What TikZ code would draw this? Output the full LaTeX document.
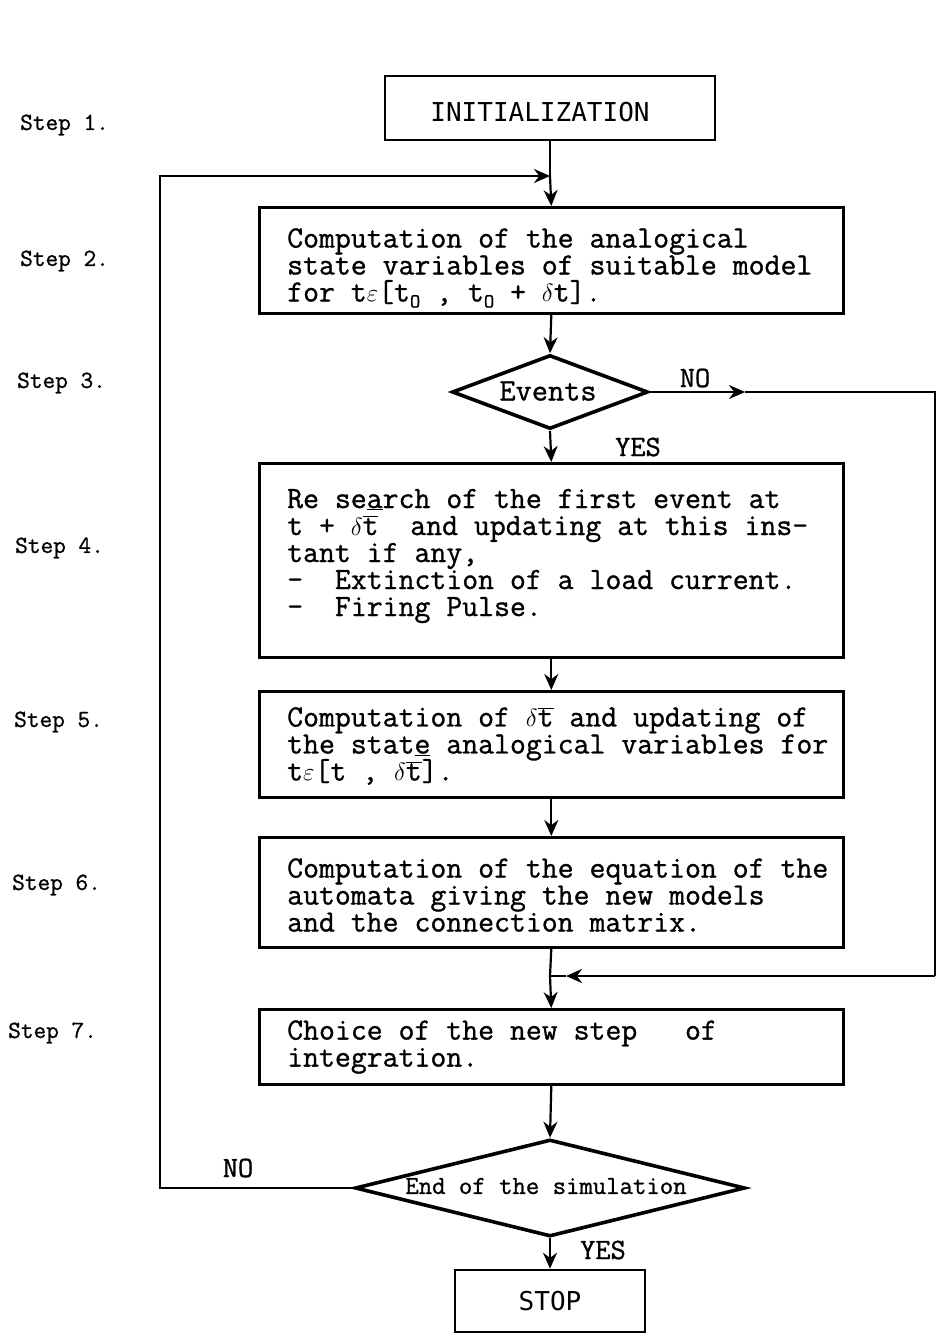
\documentclass[tikz,border=0pt]{standalone}
\usepackage{fontspec}
\newfontfamily\mono{Latin Modern Mono}[RawFeature={embolden=1.0}]
\newfontfamily\gothic{DejaVu Sans Mono}
\usetikzlibrary{shapes.geometric,arrows.meta}
\newcommand\ovt{$\overline{\hbox{t}}$}
\newcommand\dl{$\delta$}
\newcommand\ep{$\varepsilon$}
\newcommand\subO{\raisebox{-6pt}{\fontsize{20}{20}\selectfont O}}
\lineskiplimit=-100pt
\begin{document}
\begin{tikzpicture}[x=1pt,y=-1pt,
  box/.style={draw,line width=2.6pt,inner sep=0pt,anchor=north west},
  tbox/.style={draw,line width=2.6pt,inner sep=0pt,font=\gothic\fontsize{26}{26}\selectfont},
  dia/.style={draw,diamond,line width=3.6pt,inner sep=0pt},
  txt/.style={anchor=west,align=left,inner sep=0pt,font=\mono\fontsize{30.9}{27}\selectfont},
  steplab/.style={anchor=west,inner sep=0pt,font=\mono\fontsize{24.6}{25}\selectfont},
  lab/.style={inner sep=0pt,font=\mono\fontsize{29.5}{29.5}\selectfont},
  line/.style={line width=2.2pt},
  arr/.style={line width=2.2pt,-{Stealth[length=16pt,width=14pt]}}]
\useasboundingbox (0,0) rectangle (938,1338);

% step labels
\node[steplab] (s1) at (20,125) {Step 1.};
\node[steplab] (s2) at (20,261) {Step 2.};
\node[steplab] (s3) at (17,383) {Step 3.};
\node[steplab] (s4) at (15,548) {Step 4.};
\node[steplab] (s5) at (14,722) {Step 5.};
\node[steplab] (s6) at (12,885) {Step 6.};
\node[steplab] (s7) at (8,1033) {Step 7.};

% boxes
\node[tbox,minimum width=330pt,minimum height=64pt] (init) at (550,108) {};
\node[inner sep=0pt,font=\gothic\fontsize{26}{26}\selectfont] (initt) at (540,112) {INITIALIZATION};

\node[box,minimum width=584pt,minimum height=106pt] (b2) at (258,206) {};
\node[txt] (t2) at (287,268) {Computation of the analogical\\
state variables of suitable model\\
for t\ep[t\subO{} , t\subO{} + \dl t].};

\node[dia,minimum width=196pt,minimum height=74pt] (ev) at (550,392) {};
\node[lab,font=\mono\fontsize{31.4}{31.4}\selectfont] (evt) at (548,391) {Events};

\node[box,minimum width=584pt,minimum height=194pt] (b4) at (258,462) {};
\node[txt] (t4) at (287,556) {Re se\underline{a}rch of the first event at\\
t + \dl\ovt{}~~and updating at this ins-\\
tant if any,\\
-~~Extinction of a load current.\\
-~~Firing Pulse.};

\node[box,minimum width=584pt,minimum height=106pt] (b5) at (258,690) {};
\node[txt] (t5) at (287,746) {Computation of \dl\ovt{} and updating of\\
the stat\underline{e} analogical variables for\\
t\ep[t , \dl\ovt{}].};

\node[box,minimum width=584pt,minimum height=110pt] (b6) at (258,836) {};
\node[txt] (t6) at (287,895) {Computation of the equation of the\\
automata giving the new models\\
and the connection matrix.};

\node[box,minimum width=584pt,minimum height=75pt] (b7) at (258,1008) {};
\node[txt] (t7) at (287,1047) {Choice of the new step~~~of\\
integration.};

\node[dia,minimum width=390pt,minimum height=97pt] (sim) at (550,1188) {};
\node[lab,font=\mono\fontsize{26}{26}\selectfont] (simt) at (546,1186) {End of the simulation};

\node[tbox,minimum width=190pt,minimum height=62pt] (stop) at (550,1301) {STOP};

% labels
\node[lab] (no1) at (695,378) {NO};
\node[lab] (yes1) at (638,447) {YES};
\node[lab] (no2) at (238,1168) {NO};
\node[lab] (yes2) at (603,1250) {YES};

% coordinates
\coordinate (j1) at (550,176);
\coordinate (ltop) at (160,176);
\coordinate (na) at (745,392);
\coordinate (rtop) at (935,392);
\coordinate (rbot) at (935,976);
\coordinate (ja) at (566,976);
\coordinate (j2) at (550,976);

% connectors
\draw[line] (init.south) -- (j1);
\draw[arr] (j1) -- (b2.north);
\draw[arr] (sim.west) -| (ltop) -- (j1);
\draw[arr] (b2.south) -- (ev.north);
\draw[arr] (ev.south) -- (b4.north);
\draw[arr] (ev.east) -- (na);
\draw[line] (na) -- (rtop) -- (rbot);
\draw[arr] (rbot) -- (ja);
\draw[line] (ja) -- (j2);
\draw[arr] (b4.south) -- (b5.north);
\draw[arr] (b5.south) -- (b6.north);
\draw[line] (b6.south) -- (j2);
\draw[arr] (j2) -- (b7.north);
\draw[arr] (b7.south) -- (sim.north);
\draw[arr] (sim.south) -- (stop.north);
\end{tikzpicture}
\end{document}
